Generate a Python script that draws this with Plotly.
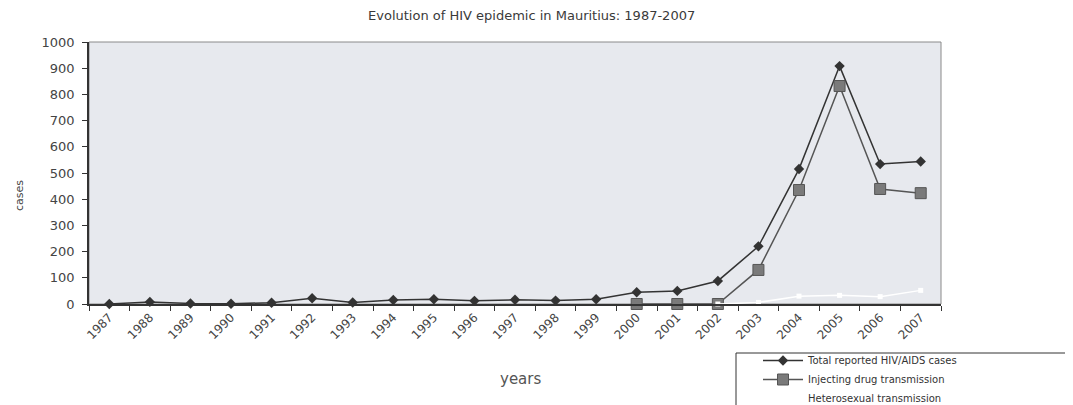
import plotly.graph_objects as go

years = [str(y) for y in range(1987, 2008)]

total_cases = [0, 8, 2, 1, 5, 22, 6, 15, 18, 12, 16, 13, 18,
               45, 50, 88, 220, 515, 908, 534, 544]

idu_years = ["2000", "2001", "2002", "2003", "2004", "2005", "2006", "2007"]
idu_cases = [0, 0, 0, 130, 435, 832, 439, 423]

hetero_years = ["2002", "2003", "2004", "2005", "2006", "2007"]
hetero_cases = [0, 6, 30, 33, 28, 52]

FONT = "DejaVu Sans"
GREY = "#444444"

# page body adds ~7px offset, so margins are trimmed by that much
L, T, W, H = 81, 34, 852, 262
PLOT_LEFT, PLOT_BOTTOM = 88, 303   # where the plot area lands on screen


def px_x(x):
    return (x - PLOT_LEFT) / W


def px_y(y):
    return (PLOT_BOTTOM - y) / H


fig = go.Figure()
fig.add_trace(go.Scatter(
    x=years, y=total_cases,
    mode="lines+markers",
    name="Total reported HIV/AIDS cases",
    line=dict(color="#333333", width=1.5),
    marker=dict(symbol="diamond", size=8, color="#333333"),
    cliponaxis=False,
))
fig.add_trace(go.Scatter(
    x=idu_years, y=idu_cases,
    mode="lines+markers",
    name="Injecting drug transmission",
    line=dict(color="#555555", width=1.5),
    marker=dict(symbol="square", size=11, color="#7a7a7a",
                line=dict(color="#555555", width=1)),
    cliponaxis=False,
))
fig.add_trace(go.Scatter(
    x=hetero_years, y=hetero_cases,
    mode="lines+markers",
    name="Heterosexual transmission",
    line=dict(color="#ffffff", width=1.5),
    marker=dict(symbol="square", size=5, color="#ffffff"),
    cliponaxis=False,
))

fig.update_layout(
    template="none",
    width=1073, height=405,
    margin=dict(l=L, r=1073 - L - W, t=T, b=405 - T - H, autoexpand=False),
    paper_bgcolor="white",
    plot_bgcolor="#e7e9ee",
    font=dict(family=FONT, color=GREY, size=12),
    title=dict(
        text="Evolution of HIV epidemic in Mauritius: 1987-2007",
        x=0.488, xref="container", xanchor="center",
        y=0.982, yref="container", yanchor="middle",
        font=dict(family=FONT, size=13, color="#3a3a3a"),
    ),
    xaxis=dict(
        type="category", categoryorder="array", categoryarray=years,
        range=[-0.5, 20.5], automargin=False,
        tickson="boundaries", ticks="outside", ticklen=5, tickcolor="#333",
        tickangle=-45, tickfont=dict(size=12, color=GREY),
        showline=True, linecolor="#333", linewidth=1.5,
        showgrid=False, zeroline=False,
    ),
    yaxis=dict(
        range=[0, 1000], dtick=100, automargin=False,
        ticks="outside", ticklen=5, tickcolor="#333",
        ticklabelstandoff=5,
        tickfont=dict(size=13, color=GREY),
        showline=True, linecolor="#333", linewidth=1.5,
        showgrid=False, zeroline=False,
    ),
    showlegend=True,
    legend=dict(
        x=px_x(757), xanchor="left",
        y=px_y(345), yanchor="top",
        bgcolor="rgba(0,0,0,0)", borderwidth=0,
        font=dict(family=FONT, size=10, color="#333"),
        tracegroupgap=0, itemwidth=40,
    ),
    shapes=[
        dict(type="rect", xref="paper", yref="paper",
             x0=0, x1=1, y0=0, y1=1,
             line=dict(color="#8a8a8a", width=1), layer="below"),
        # legend frame running off the bottom-right like the scan
        dict(type="rect", xref="paper", yref="paper",
             x0=px_x(735), x1=px_x(1090),
             y0=px_y(420), y1=px_y(352),
             line=dict(color="#333", width=1), fillcolor="white",
             layer="below"),
    ],
    annotations=[
        dict(text="cases", xref="paper", yref="paper",
             x=px_x(18), y=px_y(195), textangle=-90, showarrow=False,
             xanchor="center", yanchor="middle",
             font=dict(family=FONT, size=11, color=GREY)),
        dict(text="years", xref="paper", yref="paper",
             x=px_x(519), y=px_y(378), showarrow=False,
             xanchor="center", yanchor="middle",
             font=dict(family=FONT, size=15, color="#555555")),
    ],
)

fig.write_html("out.html")
